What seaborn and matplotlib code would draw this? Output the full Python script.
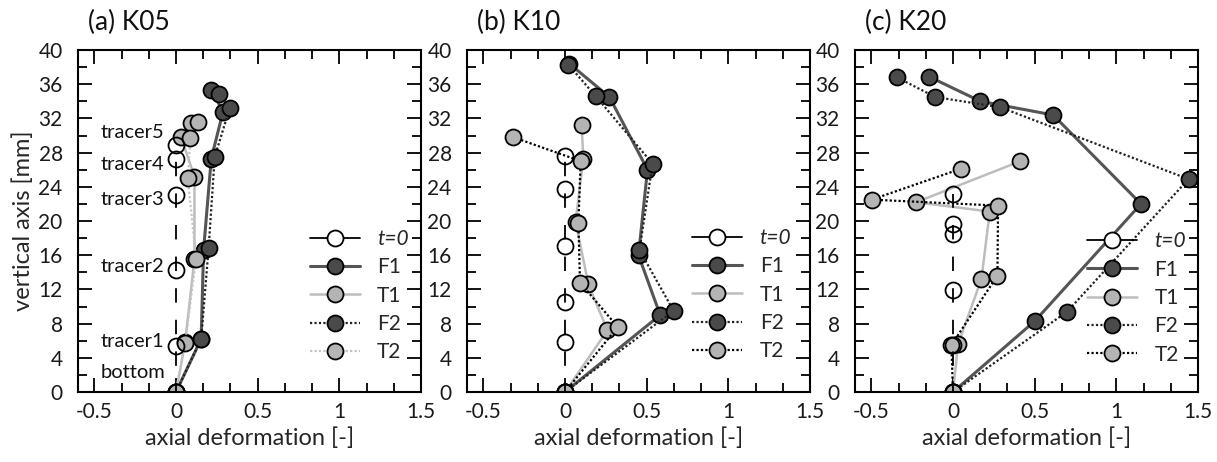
import numpy as np
import matplotlib
matplotlib.use("Agg")
import matplotlib.pyplot as plt
from matplotlib.ticker import MultipleLocator, AutoMinorLocator, FuncFormatter
import seaborn as sns

# ---- data (x: axial deformation [-], y: vertical axis [mm]) ----
# point order: bottom, tracer1 ... tracer5
k05_t0_x = [0, 0, 0, 0, 0, 0]
k05_t0_y = [0, 5.4, 14.3, 23.0, 27.2, 28.9]
k05_f1_x = [0, 0.154, 0.169, 0.216, 0.288, 0.216]
k05_f1_y = [0, 6.2, 16.65, 27.3, 32.8, 35.3]
k05_t1_x = [0, 0.056, 0.113, 0.113, 0.031, 0.093]
k05_t1_y = [0, 5.8, 15.6, 25.2, 29.8, 31.5]
k05_f2_x = [0, 0.154, 0.200, 0.237, 0.329, 0.263]
k05_f2_y = [0, 6.2, 16.9, 27.5, 33.2, 34.9]
k05_t2_x = [0, 0.056, 0.123, 0.072, 0.088, 0.134]
k05_t2_y = [0, 5.7, 15.6, 25.0, 29.7, 31.6]

k10_t0_x = [0, 0, 0, 0, 0, 0]
k10_t0_y = [0, 5.8, 10.5, 17.1, 23.8, 27.6]
k10_f1_x = [0, 0.583, 0.450, 0.505, 0.272, 0.027]
k10_f1_y = [0, 9.0, 16.0, 26.0, 34.5, 38.4]
k10_t1_x = [0, 0.260, 0.143, 0.065, 0.112, 0.102]
k10_t1_y = [0, 7.2, 12.6, 19.9, 27.3, 31.2]
k10_f2_x = [0, 0.665, 0.456, 0.536, 0.188, 0.020]
k10_f2_y = [0, 9.5, 16.6, 26.7, 34.6, 38.3]
k10_t2_x = [0, 0.323, 0.092, 0.082, 0.096, -0.317]
k10_t2_y = [0, 7.6, 12.8, 19.8, 27.0, 29.8]

k20_t0_x = [0, 0, 0, 0, 0, 0]
k20_t0_y = [0, 5.5, 11.9, 18.5, 19.7, 23.1]
k20_f1_x = [0, 0.501, 1.151, 0.613, 0.168, -0.149]
k20_f1_y = [0, 8.3, 22.0, 32.4, 34.0, 36.9]
k20_t1_x = [0, 0.031, 0.174, 0.225, -0.225, 0.413]
k20_t1_y = [0, 5.6, 13.2, 21.1, 22.2, 27.0]
k20_f2_x = [0, 0.699, 1.442, 0.290, -0.108, -0.344]
k20_f2_y = [0, 9.4, 24.9, 33.3, 34.5, 36.8]
k20_t2_x = [0, -0.010, 0.272, 0.276, -0.497, 0.047]
k20_t2_y = [0, 5.5, 13.6, 21.8, 22.5, 26.1]

panel_titles = ["(a) K05", "(b) K10", "(c) K20"]
series_names = ["t=0", "F1", "T1", "F2", "T2"]
tracer_labels = ["bottom", "tracer1", "tracer2", "tracer3", "tracer4", "tracer5"]
tracer_label_y = [2.3, 5.9, 14.7, 22.5, 26.6, 30.4]

panels = [
    [(k05_t0_x, k05_t0_y), (k05_f1_x, k05_f1_y), (k05_t1_x, k05_t1_y),
     (k05_f2_x, k05_f2_y), (k05_t2_x, k05_t2_y)],
    [(k10_t0_x, k10_t0_y), (k10_f1_x, k10_f1_y), (k10_t1_x, k10_t1_y),
     (k10_f2_x, k10_f2_y), (k10_t2_x, k10_t2_y)],
    [(k20_t0_x, k20_t0_y), (k20_f1_x, k20_f1_y), (k20_t1_x, k20_t1_y),
     (k20_f2_x, k20_f2_y), (k20_t2_x, k20_t2_y)],
]

sns.set_theme(style="ticks")
plt.rcParams["font.family"] = ["Lato", "DejaVu Sans"]
plt.rcParams["axes.unicode_minus"] = False

DARK = "#4a4a4a"
LIGHT = "#b4b4b4"
dotted = (0, (1, 1))

fig = plt.figure(figsize=(12.17, 4.62), dpi=100)
lefts = [78, 467, 855]
axes = [fig.add_axes([l / 1217, 1 - 392 / 462, 343 / 1217, 342 / 462]) for l in lefts]
legend_anchor = [(0.675, 0.477), (0.656, 0.48), (0.676, 0.47)]

for i, ax in enumerate(axes):
    data = panels[i]
    t2_line = "#c4c4c4" if i == 0 else "black"
    styles = [
        dict(color="black", linestyle=(3, (8, 9.5)), linewidth=1.3,
             markerfacecolor="none", zorder=4),
        dict(color="#555555", linestyle="-", linewidth=2.2, markerfacecolor=DARK),
        dict(color="#bdbdbd", linestyle="-", linewidth=1.8, markerfacecolor=LIGHT),
        dict(color="#222222", linestyle=dotted, linewidth=1.6, markerfacecolor=DARK),
        dict(color=t2_line, linestyle=dotted, linewidth=1.6, markerfacecolor=LIGHT),
    ]
    for (xs, ys), name, st in zip(data, series_names, styles):
        sns.lineplot(x=xs, y=ys, ax=ax, sort=False, estimator=None,
                     marker="o", markersize=11.5, markeredgecolor="black",
                     markeredgewidth=1.3, label=name, **st)

    ax.set_xlim(-0.6, 1.5)
    ax.set_ylim(0, 40)
    ax.xaxis.set_major_locator(MultipleLocator(0.5))
    ax.xaxis.set_minor_locator(AutoMinorLocator(3))
    ax.yaxis.set_major_locator(MultipleLocator(4))
    ax.yaxis.set_minor_locator(AutoMinorLocator(2))
    ax.xaxis.set_major_formatter(FuncFormatter(lambda v, p: f"{v:g}"))
    ax.tick_params(which="both", direction="in", top=True, right=True,
                   labelsize=15, color="black", labelcolor="#1a1a1a")
    ax.tick_params(which="major", length=10, width=1.3)
    ax.tick_params(which="minor", length=6.5, width=1.3)
    ax.tick_params(axis="y", which="major", pad=11)
    ax.tick_params(axis="x", which="major", pad=7)
    for sp in ax.spines.values():
        sp.set_linewidth(1.5)
        sp.set_color("black")
    ax.set_xlabel("axial deformation [-]", fontsize=17, labelpad=4)
    ax.set_ylabel("")
    ax.text(0.03, 1.045, panel_titles[i], transform=ax.transAxes,
            fontsize=19, ha="left", va="bottom", color="#111111")

    leg = ax.legend(loc="upper left", bbox_to_anchor=legend_anchor[i],
                    frameon=False, fontsize=15, handlelength=2.4,
                    handletextpad=0.85, labelspacing=0.4, borderpad=0,
                    borderaxespad=0)
    h0 = leg.legend_handles[0]
    h0.set_linestyle("-")
    h0.set_markerfacecolor("white")
    leg.get_texts()[0].set_fontstyle("italic")

axes[0].set_ylabel("vertical axis [mm]", fontsize=17, labelpad=3)
for lab, yy in zip(tracer_labels, tracer_label_y):
    axes[0].text(-0.46, yy, lab, fontsize=14.5, ha="left", va="center",
                 color="#111111")

fig.savefig("out.png", dpi=100)
